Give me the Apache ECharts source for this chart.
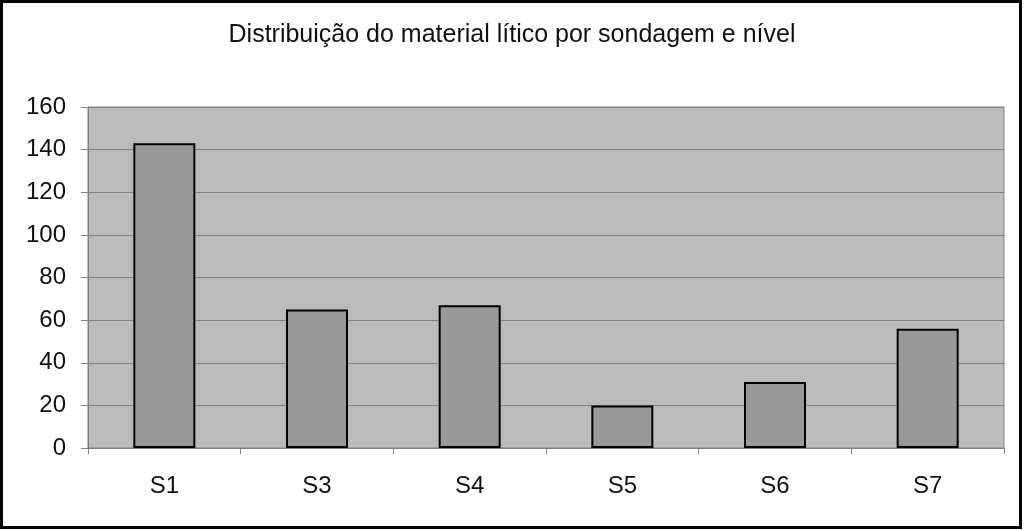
<!DOCTYPE html>
<html>
<head>
<meta charset="utf-8">
<script src="https://cdn.jsdelivr.net/npm/echarts@6/dist/echarts.min.js"></script>
<style>
html,body{margin:0;padding:0;background:#fff;}
#c{width:1024px;height:530px;}
</style>
</head>
<body>
<div id="c"></div>
<script>
const title = 'Distribuição do material lítico por sondagem e nível';
const categories = ['S1', 'S3', 'S4', 'S5', 'S6', 'S7'];
const values = [143, 65, 67, 20, 31, 56];
const yMin = 0, yMax = 160, yStep = 20;

const chart = echarts.init(document.getElementById('c'), null, {renderer: 'canvas'});
chart.setOption({
  animation: false,
  backgroundColor: '#ffffff',
  title: {
    text: title,
    left: 'center',
    top: 18,
    textStyle: {fontFamily: 'Liberation Sans, Arial, sans-serif', fontSize: 25, fontWeight: 'normal', color: '#111'}
  },
  graphic: [{
    type: 'rect',
    shape: {x: 1.5, y: 1.5, width: 1019, height: 526},
    style: {fill: 'none', stroke: '#000', lineWidth: 3},
    silent: true,
    z: 100
  }],
  grid: {
    left: 88, right: 20, top: 107, bottom: 82,
    show: true,
    backgroundColor: '#bbbbbb',
    borderColor: '#808080',
    borderWidth: 1
  },
  xAxis: {
    type: 'category',
    data: categories,
    axisLine: {show: true, lineStyle: {color: '#808080', width: 1}},
    axisTick: {show: true, length: 6, alignWithLabel: false, lineStyle: {color: '#808080'}},
    axisLabel: {fontFamily: 'Liberation Sans, Arial, sans-serif', fontSize: 24, color: '#111', margin: 26}
  },
  yAxis: {
    type: 'value',
    min: yMin, max: yMax, interval: yStep,
    axisLine: {show: true, lineStyle: {color: '#808080', width: 1}},
    axisTick: {show: true, length: 7, lineStyle: {color: '#808080'}},
    splitLine: {show: true, lineStyle: {color: '#808080', width: 1}},
    axisLabel: {fontFamily: 'Liberation Sans, Arial, sans-serif', fontSize: 24, color: '#111', margin: 22}
  },
  series: [{
    type: 'bar',
    data: values,
    barWidth: 62,
    itemStyle: {color: '#999999', borderColor: '#000', borderWidth: 2}
  }]
});
</script>
</body>
</html>
